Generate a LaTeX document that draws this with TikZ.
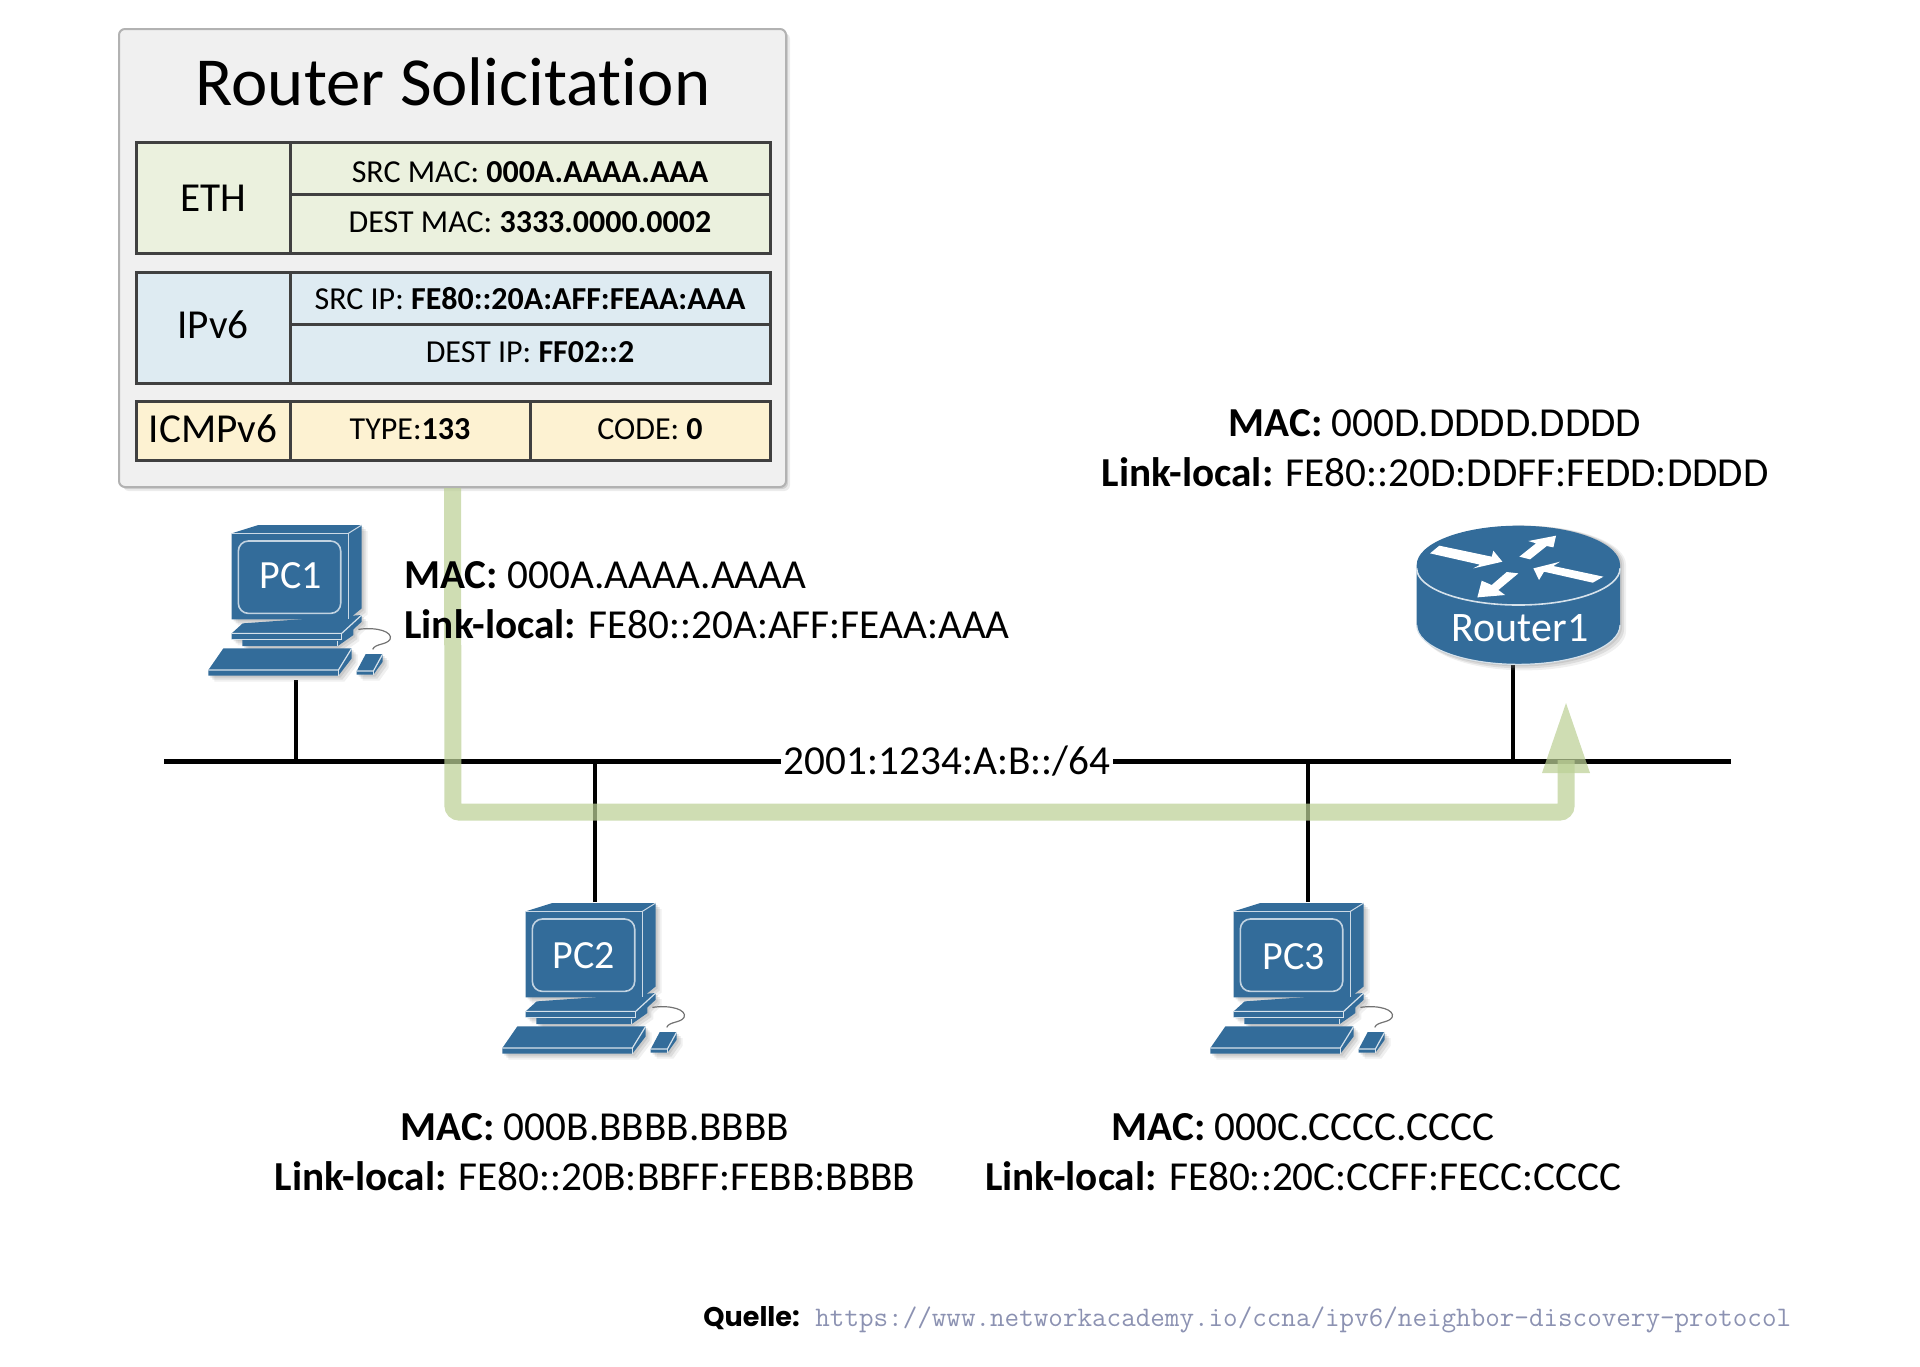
\documentclass[tikz,border=0pt]{standalone}
\usepackage{fontspec}
\setmainfont[Ligatures=NoCommon]{Carlito}
\setmonofont{Latin Modern Mono}
\newfontfamily\quellefont{Poppins}
\usetikzlibrary{calc}
\definecolor{ciscoblue}{HTML}{336C9A}
\definecolor{boxfill}{HTML}{F0F0F0}
\definecolor{ethfill}{HTML}{EBF1DE}
\definecolor{ipfill}{HTML}{DEEBF2}
\definecolor{icmpfill}{HTML}{FDF2D2}
\definecolor{celledge}{HTML}{404040}
\definecolor{greenpath}{HTML}{BCD096}
\definecolor{urlcolor}{HTML}{8C92B2}
\newcommand{\pcshape}[2]{%
  \begin{scope}[shift={(#1)},x=.1667pt,y=-.1667pt]
    \fill[#2] (125,70)--(205,45)--(515,45)--(515,295)--(475,328)--(125,328)--cycle;
    \fill[#2] (125,370)--(158,340)--(515,315)--(515,335)--(490,358)--(490,375)--(443,408)--(157,408)--(157,388)--(125,388)--cycle;
    \fill[#2] (55,480)--(100,415)--(485,415)--(485,445)--(445,497)--(55,497)--cycle;
    \fill[#2] (500,483)--(527,432)--(578,432)--(578,455)--(550,494)--(500,494)--cycle;
  \end{scope}}
\newcommand{\pcicon}[3]{% origin, label, label position
  \foreach \dd/\oo in {2/.20,4/.18,6/.12}{\begin{scope}[opacity=\oo]\pcshape{$(#1)+(\dd,\dd)$}{gray}\end{scope}}
  \pcshape{#1}{ciscoblue}
  \begin{scope}[shift={(#1)},x=.1667pt,y=-.1667pt]
    \draw[white!75!ciscoblue,line width=.5pt] (475,70)--(125,70);
    \draw[white!75!ciscoblue,line width=.5pt] (475,70)--(515,45);
    \draw[white!75!ciscoblue,line width=.5pt] (475,70)--(475,328);
    \draw[white!70!ciscoblue,line width=.8pt,rounded corners=5pt] (145,93) rectangle (452,310);
    \draw[white!80!ciscoblue,line width=.6pt] (125,370)--(455,370)--(515,315);
    \draw[white!80!ciscoblue,line width=.6pt] (455,370)--(455,388);
    \draw[white!80!ciscoblue,line width=.6pt] (125,388)--(455,388);
    \draw[white!80!ciscoblue,line width=.6pt] (443,392)--(443,408);
    \draw[white!80!ciscoblue,line width=.6pt] (55,480)--(445,480)--(485,415);
    \draw[white!80!ciscoblue,line width=.6pt] (445,480)--(445,497);
    \draw[white!80!ciscoblue,line width=.6pt] (500,483)--(550,483)--(578,432);
    \draw[white!80!ciscoblue,line width=.6pt] (550,483)--(550,494);
    \draw[gray!90!black,line width=.6pt] (505,358) .. controls (560,350) and (610,365) .. (600,388) .. controls (590,405) and (555,400) .. (548,418);
    \node[iconlabel] (#2) at (#3) {#2};
  \end{scope}}
\tikzset{
  cell/.style={draw=celledge,line width=1.5pt,rectangle,inner sep=0pt,anchor=north west,text=black,font=\fontsize{16}{18}\selectfont,text height=10pt,text depth=0pt},
  headcell/.style={cell,font=\fontsize{20.6}{22}\selectfont,text height=13pt,text depth=0pt},
  addr/.style={inner sep=0pt,text=black,font=\fontsize{20.6}{22}\selectfont,align=center},
  iconlabel/.style={inner sep=0pt,text=white,font=\fontsize{20}{22}\selectfont},
  busline/.style={line width=2.2pt,black},
  flow/.style={greenpath,opacity=.72},
}
\begin{document}
\begin{tikzpicture}[x=.5pt,y=-.5pt]
\useasboundingbox (0,0) rectangle (1920,1366);
% panel
\foreach \dd/\oo in {2/.25,4/.15}{\fill[gray,opacity=\oo,rounded corners=3pt] (119+\dd,29+\dd) rectangle (786+\dd,487+\dd);}
\node[draw=gray!60,line width=1pt,fill=boxfill,rounded corners=3pt,inner sep=0pt,minimum width=333.5pt,minimum height=229pt] (panel) at (452.5,258) {};
\node[inner sep=0pt,font=\fontsize{34.4}{36}\selectfont] (title) at (453,82) {Router Solicitation};
% ETH
\node[headcell,fill=ethfill,minimum width=77pt,minimum height=55.5pt] (eth) at (134.5,141) {ETH};
\node[cell,fill=ethfill,minimum width=240pt,minimum height=26pt] (ethsrc) at (288.5,141) {\raisebox{-1.8pt}{SRC MAC: \textbf{000A.AAAA.AAA}}};
\node[cell,fill=ethfill,minimum width=240pt,minimum height=29.5pt] (ethdst) at (288.5,193) {\raisebox{.6pt}{DEST MAC: \textbf{3333.0000.0002}}};
% IPv6
\node[headcell,fill=ipfill,minimum width=77pt,minimum height=55.5pt] (ip) at (134.5,270.5) {\raisebox{.9pt}{IPv6}};
\node[cell,fill=ipfill,minimum width=240pt,minimum height=26pt] (ipsrc) at (288.5,270.5) {\raisebox{-.9pt}{SRC IP: \textbf{FE80::20A:AFF:FEAA:AAA}}};
\node[cell,fill=ipfill,minimum width=240pt,minimum height=29.5pt] (ipdst) at (288.5,322.5) {\raisebox{.6pt}{DEST IP: \textbf{FF02::2}}};
% ICMPv6
\node[headcell,fill=icmpfill,minimum width=77pt,minimum height=29.5pt] (icmp) at (134.5,400) {\raisebox{.9pt}{ICMPv6}};
\node[cell,fill=icmpfill,minimum width=120pt,minimum height=29.5pt] (icmptype) at (288.5,400) {\raisebox{.9pt}{TYPE:\textbf{133}}};
\node[cell,fill=icmpfill,minimum width=120pt,minimum height=29.5pt] (icmpcode) at (528.5,400) {\raisebox{.9pt}{CODE: \textbf{0}}};
% network
\coordinate (busL) at (164,761.5);
\coordinate (busR) at (1731,761.5);
\coordinate (pc1port) at (296,680);
\coordinate (pc2port) at (595,902);
\coordinate (pc3port) at (1308,902);
\coordinate (r1port) at (1513,665);
\draw[busline] (busL) -- (busR);
\draw[busline] (pc1port) -- (pc1port |- busL);
\draw[busline] (pc2port) -- (pc2port |- busL);
\draw[busline] (pc3port) -- (pc3port |- busL);
\draw[busline] (r1port) -- (r1port |- busL);
\node[fill=white,inner sep=1.5pt,font=\fontsize{20.6}{22}\selectfont] (net) at (947,761) {2001:1234:A:B::/64};
% flow arrow
\coordinate (flowcorner) at (453,812);
\coordinate (flowend) at (1566,760);
\coordinate (flowtip) at (1566,703);
\draw[flow,line width=8.5pt,rounded corners=3pt] (panel.south) -- (flowcorner) -- (flowcorner -| flowend) -- (flowend);
\fill[flow] (flowtip) -- ($(flowtip)+(24,70)$) -- ($(flowtip)+(-24,70)$) -- cycle;
% icons
\pcicon{190,510}{PC1}{303,198}
\pcicon{484,888}{PC2}{300,204}
\pcicon{1192,888}{PC3}{306,207}
% router
\begin{scope}[shift={(1390,510)},x=.1667pt,y=-.1667pt]
  \foreach \dd/\oo in {6/.2,12/.18,18/.12}{
    \fill[gray,opacity=\oo] (80+\dd,165) arc[start angle=180,end angle=360,x radius=305,y radius=118] -- (690+\dd,345+\dd) arc[start angle=0,end angle=180,x radius=305,y radius=118] -- cycle;}
  \fill[ciscoblue] (80,165) arc[start angle=180,end angle=360,x radius=305,y radius=118] -- (690,345) arc[start angle=0,end angle=180,x radius=305,y radius=118] -- cycle;
  \draw[white!80!ciscoblue,line width=.8pt] (80,175) arc[start angle=180,end angle=0,x radius=305,y radius=110];
  \draw[white!80!ciscoblue,line width=.6pt] (80,345) arc[start angle=180,end angle=0,x radius=305,y radius=118];
  \fill[white] (120,130)--(148,107)--(305,140)--(310,122)--(337,155)--(250,175)--(270,164)--cycle;
  \fill[white] (388,140)--(438,100)--(415,93)--(498,77)--(490,112)--(470,108)--(420,148)--cycle;
  \fill[white] (640,200)--(608,218)--(462,185)--(447,210)--(430,175)--(510,155)--(490,168)--cycle;
  \fill[white] (385,190)--(350,186)--(305,225)--(275,212)--(262,262)--(345,255)--(325,240)--cycle;
  \node[iconlabel,font=\fontsize{21}{22}\selectfont] (Router1) at (390,354) {Router1};
\end{scope}
% address labels
\node[addr,align=left,anchor=west] (pc1addr) at (404,600.5) {\textbf{MAC:} 000A.AAAA.AAAA\\[3pt]\textbf{Link-local:} FE80::20A:AFF:FEAA:AAA};
\node[addr] (r1addr) at (1435,448.5) {\textbf{MAC:} 000D.DDDD.DDDD\\[3pt]\textbf{Link-local:} FE80::20D:DDFF:FEDD:DDDD};
\node[addr] (pc2addr) at (595,1152.5) {\textbf{MAC:} 000B.BBBB.BBBB\\[3pt]\textbf{Link-local:} FE80::20B:BBFF:FEBB:BBBB};
\node[addr] (pc3addr) at (1303,1152.5) {\textbf{MAC:} 000C.CCCC.CCCC\\[3pt]\textbf{Link-local:} FE80::20C:CCFF:FECC:CCCC};
% source
\node[anchor=base west,inner sep=0pt,font=\quellefont\bfseries\fontsize{13.5}{15}\selectfont] (quelle) at (703,1326) {Quelle:};
\node[anchor=base west,inner sep=0pt,text=urlcolor,font=\ttfamily\fontsize{14.14}{15}\selectfont] (url) at (815,1326) {https://www.networkacademy.io/ccna/ipv6/neighbor-discovery-protocol};
\end{tikzpicture}
\end{document}
